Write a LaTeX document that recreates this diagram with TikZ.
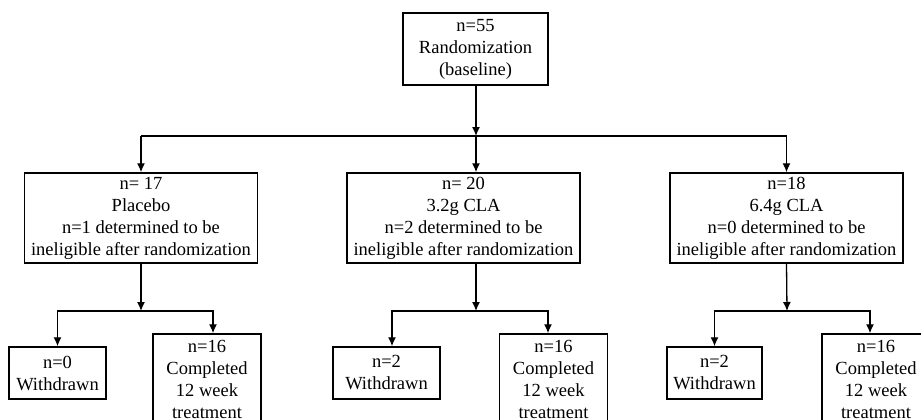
\documentclass[tikz,border=0pt]{standalone}
\usepackage{fontspec}
\setmainfont{Liberation Serif}
\usetikzlibrary{arrows.meta,calc}

\begin{document}
\begin{tikzpicture}[x=1pt,y=-1pt]
  \def\YTOP{49}
  \def\YSPLIT{136}
  \def\YARM{218}
  \def\YSUB{311}
  \def\YWD{373}
  \def\YCMP{379}
  \def\ARMW{233}
  \def\ARMH{90}

  \tikzset{
      box/.style={draw,line width=1.5pt,align=center,inner sep=0pt,
        font=\fontsize{18.5}{22}\selectfont},
      armbox/.style={box,minimum width=\ARMW pt,minimum height=\ARMH pt},
      wdbox/.style={box,minimum height=52pt},
      cmpbox/.style={box,minimum width=108pt,minimum height=90pt},
      flow/.style={-{Latex[length=9pt,width=8pt]},line width=1.3pt},
  }

  \useasboundingbox (0,0) rectangle (921,420);
  \clip (0,0) rectangle (921,420);

  % top
  \node [box,minimum width=145pt,minimum height=72pt] (rand) at (475.5,\YTOP)
    {n=55\\Randomization\\(baseline)};

  % treatment arms
  \node [armbox] (plac) at (141,\YARM)
    {n= 17\\Placebo\\n=1 determined to be\\ineligible after randomization};
  \node [armbox] (claA) at (463.5,\YARM)
    {n= 20\\3.2g CLA\\n=2 determined to be\\ineligible after randomization};
  \node [armbox] (claB) at (786.5,\YARM)
    {n=18\\6.4g CLA\\n=0 determined to be\\ineligible after randomization};

  % outcomes
  \node [wdbox,minimum width=97pt] (wdP) at (57.5,\YWD) {n=0\\Withdrawn};
  \node [cmpbox] (cmpP) at (207,\YCMP) {n=16\\Completed\\12 week\\treatment};
  \node [wdbox,minimum width=107pt] (wdA) at (386.5,\YWD) {n=2\\Withdrawn};
  \node [cmpbox] (cmpA) at (553.5,\YCMP) {n=16\\Completed\\12 week\\treatment};
  \node [wdbox,minimum width=95pt] (wdB) at (714.5,\YWD) {n=2\\Withdrawn};
  \node [cmpbox] (cmpB) at (876,\YCMP) {n=16\\Completed\\12 week\\treatment};

  \coordinate (split) at (476,\YSPLIT);
  \coordinate (subP) at (141,\YSUB);
  \coordinate (subA) at (476,\YSUB);
  \coordinate (subB) at (787,\YSUB);

  % randomization split
  \draw [flow] (rand.south -| split) -- (split);
  \draw [line width=1.3pt] (plac.north |- split) -- (claB.north |- split);
  \draw [flow] (plac.north |- split) -- (plac.north);
  \draw [flow] (split) -- (split |- claA.north);
  \draw [flow] (claB.north |- split) -- (claB.north);

  % placebo
  \draw [flow] (plac.south) -- (subP);
  \draw [flow] (subP) -| (wdP.north);
  \draw [flow] (subP) -| ($(cmpP.north)+(6,0)$);

  % 3.2g
  \draw [flow] (subA |- claA.south) -- (subA);
  \draw [flow] (subA) -| ($(wdA.north)+(5.5,0)$);
  \draw [flow] (subA) -| ($(cmpA.north)+(-5.5,0)$);

  % 6.4g
  \draw [flow] (claB.south) -- (subB);
  \draw [flow] (subB) -| (wdB.north);
  \draw [flow] (subB) -| ($(cmpB.north)+(-6,0)$);
\end{tikzpicture}
\end{document}
